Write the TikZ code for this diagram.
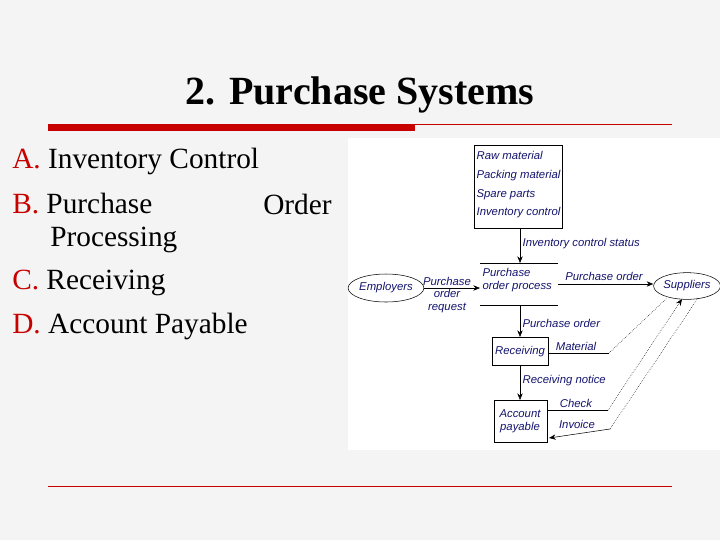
\documentclass[tikz,border=0pt]{standalone}
\usepackage{fontspec}
\setmainfont{Liberation Serif}
\newfontfamily\dfont{Liberation Sans}
\usetikzlibrary{shapes.geometric,arrows.meta}
\definecolor{navy}{RGB}{20,20,110}
\definecolor{redc}{RGB}{200,0,0}
\definecolor{bgc}{RGB}{244,244,244}
\begin{document}
\begin{tikzpicture}[x=0.75pt,y=-0.75pt,
  lbl/.style={font=\dfont\itshape\fontsize{8.5}{9.5}\selectfont,text=navy,inner sep=1pt},
  ell/.style={draw,ellipse,inner sep=0pt,font=\dfont\itshape\fontsize{8.5}{9.5}\selectfont,text=navy},
  arr/.style={-{Stealth[length=5pt,width=4pt]},thin},
  dsh/.style={densely dotted,thin},
  item/.style={anchor=west,font=\fontsize{22}{24}\selectfont,inner sep=0pt}]
\useasboundingbox (0,0) rectangle (720,540);
\fill[bgc] (0,0) rectangle (720,540);
\fill[white] (348,138) rectangle (720,450);
\node (title) at (360,95) {\bfseries\fontsize{30}{32}\selectfont 2. Purchase Systems};
\fill[redc] (48,124) rectangle (415,131);
\draw[redc,thin] (415,124) -- (672,124);
\draw[redc,thin] (48,486) -- (672,486);
\node[item] (a) at (12,161) {\textcolor{redc}{A.}\ Inventory Control};
\node[item] (b) at (12,204) {\textcolor{redc}{B.}\ Purchase};
\node[item] (b2) at (263,204) {Order};
\node[item] (b3) at (50,240) {Processing};
\node[item] (c) at (12,283) {\textcolor{redc}{C.}\ Receiving};
\node[item] (d) at (12,326) {\textcolor{redc}{D.}\ Account Payable};
% diagram
\draw (474,145) rectangle (562,228);
\node[lbl,anchor=north west,align=left,font=\dfont\itshape\fontsize{8.5}{14}\selectfont] (invt) at (475,150) {Raw material\\Packing material\\Spare parts\\Inventory control};
\coordinate (invb) at (520,228);
\draw (480,263) -- (558,263); \draw (480,305) -- (558,305);
\node[lbl,anchor=north west,align=left] (po) at (481,267) {Purchase\\order process};
\coordinate (pot) at (520,263); \coordinate (pob) at (520,305);
\draw[arr] (invb) -- (pot);
\node[lbl,anchor=west] (ics) at (521,244) {Inventory control status};
\node[ell,minimum width=51pt,minimum height=21pt] (emp) at (386,288) {Employers};
\coordinate (poL) at (480,288);
\draw[arr] (emp) -- (poL);
\node[lbl,align=center] (por) at (447,295) {Purchase\\order\\request};
\node[ell,minimum width=47pt,minimum height=20pt] (sup) at (687,286) {Suppliers};
\coordinate (poR) at (558,284);
\draw[arr] (poR) -- (sup.west |- poR);
\node[lbl] (po2) at (604,276) {Purchase order};
\draw (492,337) rectangle (548,365);
\node[lbl] (rec) at (520,352) {Receiving};
\draw[arr] (pob) -- (520,337);
\node[lbl,anchor=west] (po3) at (521,323) {Purchase order};
\draw (494,400) rectangle (547,442);
\node[lbl,align=center] (ap) at (520,421) {Account\\payable};
\draw[arr] (520,365) -- (520,400);
\node[lbl,anchor=west] (rn) at (521,381) {Receiving notice};
\coordinate (m1) at (609,353);
\draw (548,353) -- (m1); \draw[dsh] (m1) -- (667,298);
\node[lbl] (mat) at (576,346) {Material};
\coordinate (c1) at (608,410);
\draw (547,410) -- (c1); \draw[dsh,arr] (c1) -- (682,299);
\node[lbl] (chk) at (576,403) {Check};
\coordinate (i1) at (610,429);
\draw[dsh] (698,298) -- (i1); \draw[arr] (i1) -- (549,438);
\node[lbl] (inv2) at (577,424) {Invoice};
\end{tikzpicture}
\end{document}
